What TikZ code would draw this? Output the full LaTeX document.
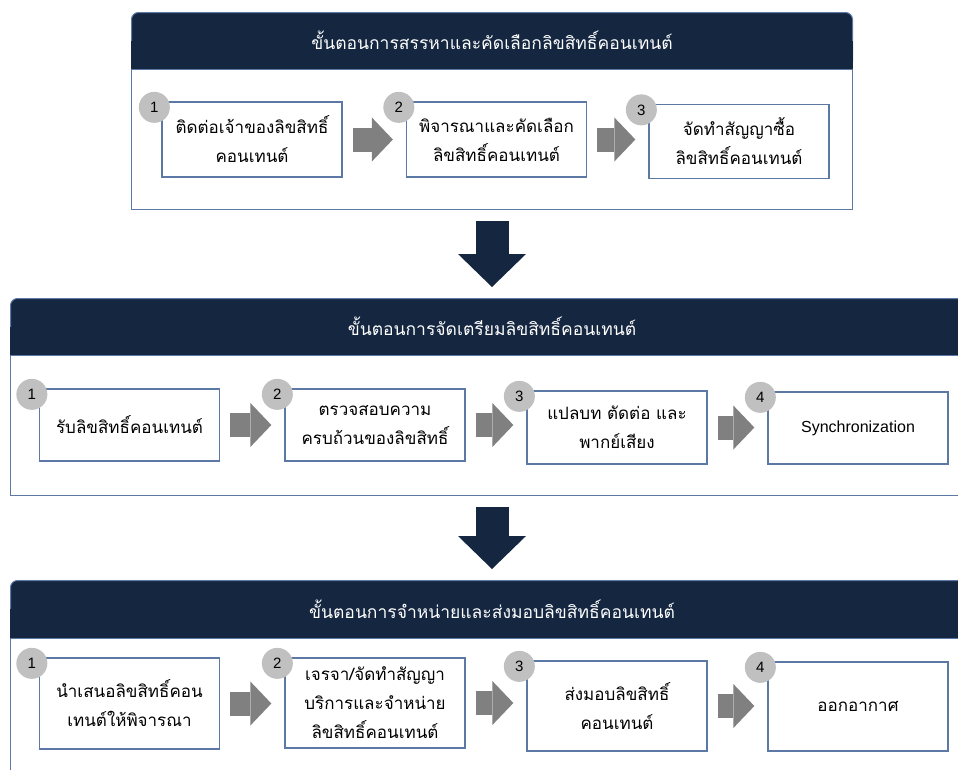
\documentclass[tikz,border=0pt]{standalone}
\usepackage{fontspec}
\setmainfont{Liberation Sans}
\newfontfamily\thai[Script=Thai]{Loma}
\usetikzlibrary{arrows.meta,positioning}
\definecolor{navy}{RGB}{20,38,64}
\definecolor{frame}{RGB}{92,120,164}
\definecolor{badge}{RGB}{192,192,192}
\definecolor{flowgray}{RGB}{128,128,128}
\begin{document}
\begin{tikzpicture}[x=1pt,y=-1pt,
  head/.style={fill=navy,draw=frame,line width=1pt,rounded corners=7pt,minimum height=56pt,inner sep=0pt,anchor=north west},
  headtext/.style={text=white,font=\thai\fontsize{17.5}{20}\selectfont},
  body/.style={draw=frame,line width=1.3pt,fill=white,inner sep=0pt},
  box/.style={draw=frame,line width=1.3pt,fill=white,minimum width=180pt,inner sep=0pt,align=center,font=\thai\fontsize{17}{29}\selectfont},
  num/.style={circle,fill=badge,minimum size=31pt,inner sep=0pt,font=\fontsize{15}{16}\selectfont},
  flow/.style={draw=flowgray,line width=24pt,-{Triangle[length=21pt,width=44pt,line width=0pt]},shorten <=10pt,shorten >=13pt},
  down/.style={draw=navy,line width=33pt,-{Triangle[length=33pt,width=68pt,line width=0pt]},shorten <=11pt,shorten >=11pt}]
\clip (0,0) rectangle (958,769);
\fill[white] (0,0) rectangle (958,769);

% first panel
\node[head,minimum width=721pt] (headFind) at (131,12) {};
\fill[navy] (headFind.west) rectangle (headFind.south east);
\node[headtext] at (headFind) {ขั้นตอนการสรรหาและคัดเลือกลิขสิทธิ์คอนเทนต์};
\node[body,minimum width=721pt,minimum height=140pt,below=0pt of headFind] (bodyFind) {};
\node[box,minimum height=75pt] (findA) at (252,139.5) {ติดต่อเจ้าของลิขสิทธิ์\\คอนเทนต์};
\node[box,minimum height=75pt] (findB) at (496.5,139.5) {พิจารณาและคัดเลือก\\ลิขสิทธิ์คอนเทนต์};
\node[box,minimum height=74pt] (findC) at (739,141.5) {จัดทำสัญญาซื้อ\\ลิขสิทธิ์คอนเทนต์};
\node[num] (numFA) at ([shift={(-7,6)}]findA.north west) {1};
\node[num] (numFB) at ([shift={(-7,6)}]findB.north west) {2};
\node[num] (numFC) at ([shift={(-7,6)}]findC.north west) {3};
\draw[flow] (findA.east) -- (findA.east -| findB.west);
\draw[flow] (findB.east) -- (findB.east -| findC.west);

% second panel
\node[head,minimum width=963pt] (headPrep) at (10,298) {};
\fill[navy] (headPrep.west) rectangle (headPrep.south east);
\node[headtext] at (headPrep) {ขั้นตอนการจัดเตรียมลิขสิทธิ์คอนเทนต์};
\node[body,minimum width=963pt,minimum height=140pt,below=0pt of headPrep] (bodyPrep) {};
\node[box,minimum height=72pt] (prepA) at (129.5,425) {รับลิขสิทธิ์คอนเทนต์};
\node[box,minimum height=72pt] (prepB) at (375,425) {ตรวจสอบความ\\ครบถ้วนของลิขสิทธิ์};
\node[box,minimum height=73pt] (prepC) at (617,427.5) {แปลบท ตัดต่อ และ\\พากย์เสียง};
\node[box,minimum height=72pt,font=\fontsize{16}{18}\selectfont] (prepD) at (858,428) {Synchronization};
\node[num] (numPA) at ([shift={(-7,6)}]prepA.north west) {1};
\node[num] (numPB) at ([shift={(-7,6)}]prepB.north west) {2};
\node[num] (numPC) at ([shift={(-7,6)}]prepC.north west) {3};
\node[num] (numPD) at ([shift={(-7,6)}]prepD.north west) {4};
\draw[flow] (prepA.east) -- (prepA.east -| prepB.west);
\draw[flow] (prepB.east) -- (prepB.east -| prepC.west);
\draw[flow] (prepC.east) -- (prepC.east -| prepD.west);

% third panel
\node[head,minimum width=963pt,minimum height=57pt] (headSell) at (10,580) {};
\fill[navy] (headSell.west) rectangle (headSell.south east);
\node[headtext] at (headSell) {ขั้นตอนการจำหน่ายและส่งมอบลิขสิทธิ์คอนเทนต์};
\node[body,minimum width=963pt,minimum height=170pt,below=0pt of headSell] (bodySell) {};
\node[box,minimum height=91pt] (sellA) at (129.5,703.5) {นำเสนอลิขสิทธิ์คอน\\เทนต์ให้พิจารณา};
\node[box,minimum height=90pt] (sellB) at (375,703) {เจรจา/จัดทำสัญญา\\บริการและจำหน่าย\\ลิขสิทธิ์คอนเทนต์};
\node[box,minimum height=90pt] (sellC) at (617,706) {ส่งมอบลิขสิทธิ์\\คอนเทนต์};
\node[box,minimum height=89pt] (sellD) at (858,706.5) {ออกอากาศ};
\node[num] (numSA) at ([shift={(-7,6)}]sellA.north west) {1};
\node[num] (numSB) at ([shift={(-7,6)}]sellB.north west) {2};
\node[num] (numSC) at ([shift={(-7,6)}]sellC.north west) {3};
\node[num] (numSD) at ([shift={(-7,6)}]sellD.north west) {4};
\draw[flow] (sellA.east) -- (sellA.east -| sellB.west);
\draw[flow] (sellB.east) -- (sellB.east -| sellC.west);
\draw[flow] (sellC.east) -- (sellC.east -| sellD.west);

% between panels
\draw[down] (bodyFind.south) -- (headPrep.north);
\draw[down] (bodyPrep.south) -- (headSell.north);
\end{tikzpicture}
\end{document}
